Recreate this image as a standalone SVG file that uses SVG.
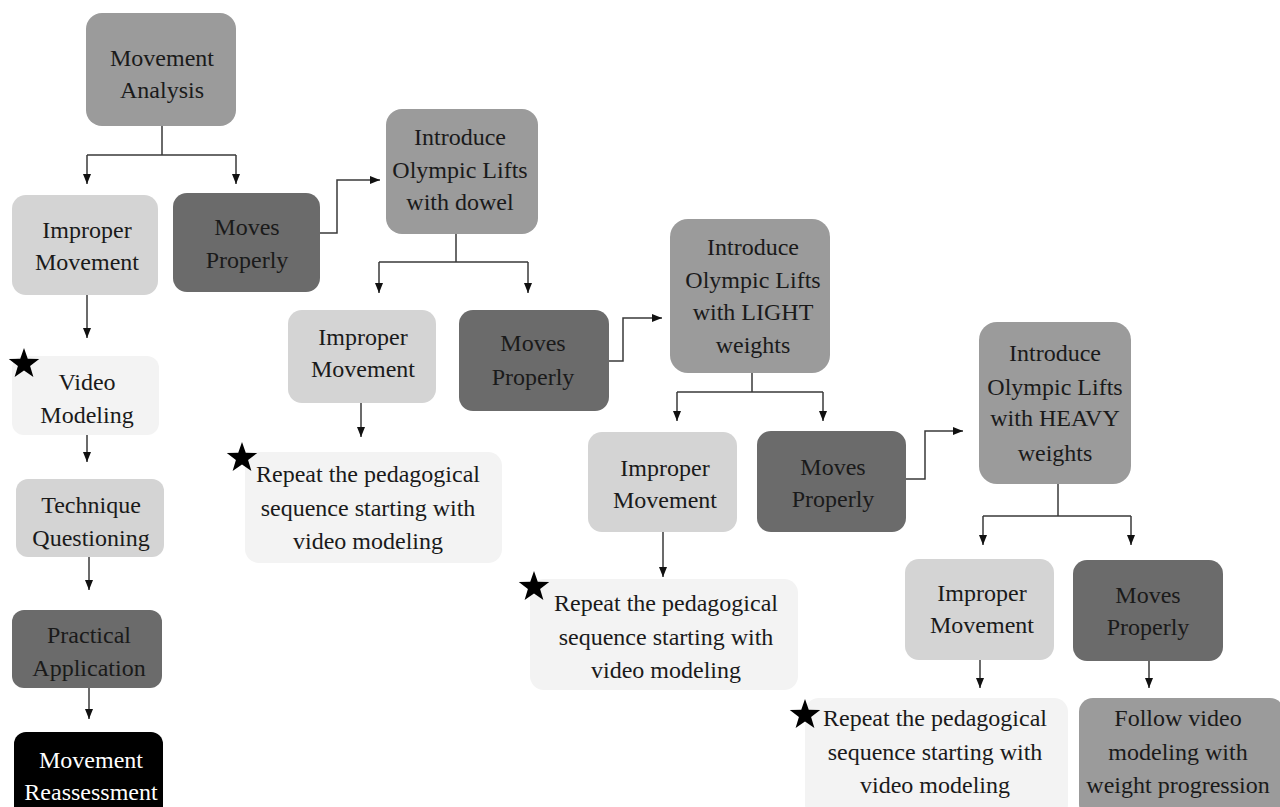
<svg xmlns="http://www.w3.org/2000/svg" width="1280" height="807" viewBox="0 0 1280 807">
<style>
text{font-family:"Liberation Serif","Times New Roman",serif;font-size:24px;text-anchor:middle;fill:#1a1a1a}
.mid{fill:#9b9b9b}
.light{fill:#d4d4d4}
.dark{fill:#6b6b6b}
.pale{fill:#f3f3f3}
.black{fill:#000}
.w{fill:#fff}
.c{fill:none;stroke:#3a3a3a;stroke-width:1.5}
</style>
<defs>
<marker id="ah" markerUnits="userSpaceOnUse" markerWidth="10" markerHeight="10" refX="10" refY="4" orient="auto">
<path d="M0,0 L10,4 L0,8 z" fill="#111"/>
</marker>
<polygon id="star" points="0,-16 3.76,-5.18 15.22,-4.94 6.09,1.98 9.4,12.94 0,6.4 -9.4,12.94 -6.09,1.98 -15.22,-4.94 -3.76,-5.18" fill="#000"/>
</defs>
<rect width="1280" height="807" fill="#fff"/>

<g id="connectors">
<path class="c" d="M162,126 V155 M87,155 H236" />
<path class="c" d="M87,155 V184" marker-end="url(#ah)"/>
<path class="c" d="M236,155 V184" marker-end="url(#ah)"/>
<path class="c" d="M320,233 H337 V180 H380" marker-end="url(#ah)"/>
<path class="c" d="M456,234 V262 M379,262 H528"/>
<path class="c" d="M379,262 V293" marker-end="url(#ah)"/>
<path class="c" d="M528,262 V293" marker-end="url(#ah)"/>
<path class="c" d="M361,403 V437" marker-end="url(#ah)"/>
<path class="c" d="M609,361 H623 V318 H662" marker-end="url(#ah)"/>
<path class="c" d="M752,373 V392 M677,392 H823"/>
<path class="c" d="M677,392 V421" marker-end="url(#ah)"/>
<path class="c" d="M823,392 V421" marker-end="url(#ah)"/>
<path class="c" d="M663,532 V577" marker-end="url(#ah)"/>
<path class="c" d="M906,479 H925 V431 H963" marker-end="url(#ah)"/>
<path class="c" d="M1058,484 V516 M983,516 H1131"/>
<path class="c" d="M983,516 V545" marker-end="url(#ah)"/>
<path class="c" d="M1131,516 V545" marker-end="url(#ah)"/>
<path class="c" d="M980,660 V688" marker-end="url(#ah)"/>
<path class="c" d="M1149,661 V688" marker-end="url(#ah)"/>
<path class="c" d="M87,295 V338" marker-end="url(#ah)"/>
<path class="c" d="M87,435 V462" marker-end="url(#ah)"/>
<path class="c" d="M89,557 V590" marker-end="url(#ah)"/>
<path class="c" d="M89,688 V719" marker-end="url(#ah)"/>
</g>

<g id="movement-analysis">
<rect class="mid" x="86" y="13" width="150" height="113" rx="16"/>
<text x="162" y="66">Movement</text>
<text x="162" y="98">Analysis</text>
</g>
<g id="improper-1">
<rect class="light" x="12" y="195" width="146" height="100" rx="14"/>
<text x="87" y="238">Improper</text>
<text x="87" y="270">Movement</text>
</g>
<g id="moves-1">
<rect class="dark" x="173" y="193" width="147" height="99" rx="14"/>
<text x="247" y="235">Moves</text>
<text x="247" y="268">Properly</text>
</g>
<g id="video-modeling">
<rect class="pale" x="12" y="356" width="147" height="79" rx="12"/>
<text x="87" y="390">Video</text>
<text x="87" y="423">Modeling</text>
<use href="#star" x="24" y="364"/>
</g>
<g id="technique">
<rect class="light" x="16" y="479" width="148" height="78" rx="12"/>
<text x="91" y="513">Technique</text>
<text x="91" y="546">Questioning</text>
</g>
<g id="practical">
<rect class="dark" x="12" y="610" width="150" height="78" rx="12"/>
<text x="89" y="643">Practical</text>
<text x="89" y="676">Application</text>
</g>
<g id="reassessment">
<rect class="black" x="14" y="732" width="149" height="90" rx="12"/>
<text class="w" x="91" y="768">Movement</text>
<text class="w" x="91" y="800">Reassessment</text>
</g>

<g id="intro-dowel">
<rect class="mid" x="386" y="109" width="152" height="125" rx="16"/>
<text x="460" y="145">Introduce</text>
<text x="460" y="178">Olympic Lifts</text>
<text x="460" y="210">with dowel</text>
</g>
<g id="improper-2">
<rect class="light" x="288" y="310" width="148" height="93" rx="14"/>
<text x="363" y="345">Improper</text>
<text x="363" y="377">Movement</text>
</g>
<g id="moves-2">
<rect class="dark" x="459" y="310" width="150" height="101" rx="14"/>
<text x="533" y="351">Moves</text>
<text x="533" y="385">Properly</text>
</g>
<g id="repeat-1">
<rect class="pale" x="245" y="452" width="257" height="111" rx="14"/>
<text x="368" y="482">Repeat the pedagogical</text>
<text x="368" y="516">sequence starting with</text>
<text x="368" y="549">video modeling</text>
<use href="#star" x="242" y="458"/>
</g>

<g id="intro-light">
<rect class="mid" x="670" y="219" width="160" height="154" rx="18"/>
<text x="753" y="255">Introduce</text>
<text x="753" y="288">Olympic Lifts</text>
<text x="753" y="320">with LIGHT</text>
<text x="753" y="353">weights</text>
</g>
<g id="improper-3">
<rect class="light" x="588" y="432" width="149" height="100" rx="14"/>
<text x="665" y="476">Improper</text>
<text x="665" y="508">Movement</text>
</g>
<g id="moves-3">
<rect class="dark" x="757" y="431" width="149" height="101" rx="14"/>
<text x="833" y="475">Moves</text>
<text x="833" y="507">Properly</text>
</g>
<g id="repeat-2">
<rect class="pale" x="530" y="579" width="268" height="111" rx="14"/>
<text x="666" y="611">Repeat the pedagogical</text>
<text x="666" y="645">sequence starting with</text>
<text x="666" y="678">video modeling</text>
<use href="#star" x="534" y="587"/>
</g>

<g id="intro-heavy">
<rect class="mid" x="979" y="322" width="152" height="162" rx="18"/>
<text x="1055" y="361">Introduce</text>
<text x="1055" y="395">Olympic Lifts</text>
<text x="1055" y="426">with HEAVY</text>
<text x="1055" y="461">weights</text>
</g>
<g id="improper-4">
<rect class="light" x="905" y="559" width="149" height="101" rx="14"/>
<text x="982" y="601">Improper</text>
<text x="982" y="633">Movement</text>
</g>
<g id="moves-4">
<rect class="dark" x="1073" y="560" width="150" height="101" rx="14"/>
<text x="1148" y="603">Moves</text>
<text x="1148" y="635">Properly</text>
</g>
<g id="repeat-3">
<rect class="pale" x="805" y="698" width="263" height="120" rx="14"/>
<text x="935" y="726">Repeat the pedagogical</text>
<text x="935" y="760">sequence starting with</text>
<text x="935" y="793">video modeling</text>
<use href="#star" x="805" y="715"/>
</g>
<g id="follow">
<rect class="mid" x="1079" y="698" width="205" height="120" rx="14"/>
<text x="1178" y="726">Follow video</text>
<text x="1178" y="760">modeling with</text>
<text x="1178" y="793">weight progression</text>
</g>
</svg>
